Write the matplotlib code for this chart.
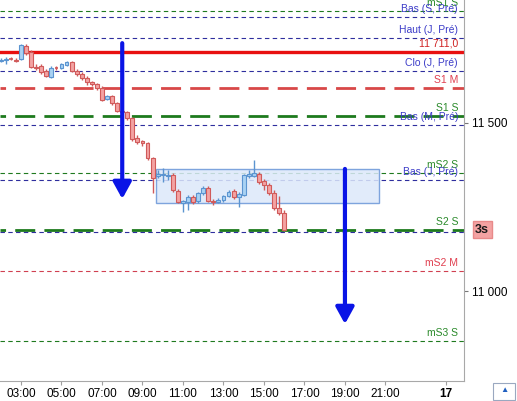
import matplotlib.pyplot as plt
from matplotlib.patches import Rectangle

plt.rcParams['font.family'] = ['Liberation Sans', 'DejaVu Sans']

# bougies 15 min, a partir de 02:00
start_hour = 2.0
opens = [11683, 11686, 11689, 11686, 11689, 11728, 11710, 11665, 11668, 11653,
         11636, 11662, 11662, 11671, 11680, 11653, 11645, 11633, 11621, 11615,
         11603, 11570, 11579, 11559, 11535, 11532, 11514, 11455, 11446, 11440,
         11395, 11342, 11345, 11342, 11345, 11297, 11262, 11265, 11280, 11268,
         11292, 11306, 11268, 11266, 11271, 11283, 11297, 11280, 11286, 11342,
         11342, 11348, 11327, 11315, 11292, 11247, 11232]
highs = [11692, 11695, 11695, 11692, 11734, 11734, 11716, 11674, 11674, 11659,
         11668, 11668, 11677, 11683, 11683, 11659, 11650, 11639, 11624, 11618,
         11609, 11582, 11582, 11561, 11541, 11535, 11517, 11464, 11449, 11443,
         11398, 11360, 11366, 11360, 11351, 11303, 11271, 11286, 11286, 11295,
         11312, 11312, 11274, 11277, 11286, 11300, 11303, 11295, 11348, 11360,
         11389, 11354, 11333, 11321, 11300, 11283, 11241]
lows = [11680, 11674, 11686, 11680, 11686, 11701, 11662, 11656, 11645, 11636,
        11633, 11656, 11659, 11668, 11650, 11639, 11627, 11612, 11609, 11597,
        11564, 11567, 11553, 11532, 11526, 11508, 11446, 11437, 11431, 11389,
        11292, 11336, 11324, 11330, 11295, 11262, 11235, 11241, 11259, 11262,
        11286, 11265, 11256, 11262, 11265, 11280, 11274, 11250, 11283, 11336,
        11339, 11318, 11300, 11286, 11241, 11226, 11179]
closes = [11686, 11689, 11688, 11683, 11731, 11707, 11665, 11662, 11650, 11639,
          11662, 11661, 11674, 11680, 11653, 11645, 11633, 11621, 11615, 11603,
          11567, 11579, 11559, 11535, 11532, 11514, 11452, 11443, 11440, 11395,
          11336, 11348, 11347, 11345, 11300, 11265, 11268, 11280, 11265, 11292,
          11306, 11268, 11265, 11271, 11283, 11295, 11280, 11289, 11345, 11348,
          11351, 11324, 11315, 11292, 11247, 11232, 11182]

# niveaux horizontaux
level_names = ['mS1 S', 'Bas (S, Pré)', 'Haut (J, Pré)', '11 711,0', 'Clo (J, Pré)',
               'S1 M', 'S1 S', 'Bas (M, Pré)', 'mS2 S', 'Bas (J, Pré)', 'S2 S', '',
               'mS2 M', 'mS3 S']
level_values = [11831, 11814, 11751, 11711, 11653, 11603, 11520, 11493, 11351, 11330,
                11182, 11176, 11060, 10853]
level_kinds = ['green', 'blue', 'blue', 'red_solid', 'blue', 'red_thick', 'green_thick',
               'blue', 'green', 'blue', 'green_thick', 'blue', 'red', 'green']

# zone et fleches
zone_time = [9.67, 20.68]
zone_price = [11262, 11363]
arrow_time = [8.0, 19.0]
arrow_from = [11736, 11363]
arrow_to = [11274, 10903]

tick_hours = [3, 5, 7, 9, 11, 13, 15, 17, 19, 21, 24]
tick_labels = ['03:00', '05:00', '07:00', '09:00', '11:00', '13:00', '15:00',
               '17:00', '19:00', '21:00', '17']

fig = plt.figure(figsize=(5.17, 4.01), dpi=100)
ax = fig.add_axes([0, 20 / 401, 464 / 517, 381 / 401])
ax.set_xlim(1.963, 24.88)
ax.set_ylim(10734, 11864)

styles = {
    'blue': dict(color='#2e2e9e', lw=0.8, ls=(0, (4, 3)), tc='#3c3cc8'),
    'green': dict(color='#1f7a1f', lw=0.8, ls=(0, (4, 3)), tc='#2a8a2a'),
    'red': dict(color='#d04050', lw=0.8, ls=(0, (4, 3)), tc='#e04050'),
    'red_solid': dict(color='#e81010', lw=2.4, ls='-', tc='#d02020'),
    'red_thick': dict(color='#d84848', lw=2.0, ls=(5.2, (7.2, 3.3)), tc='#e04050'),
    'green_thick': dict(color='#1d7a1d', lw=2.0, ls=(5.2, (7.2, 3.3)), tc='#2a8a2a'),
}
for name, val, kind in zip(level_names, level_values, level_kinds):
    st = styles[kind]
    ax.axhline(val, color=st['color'], lw=st['lw'], ls=st['ls'], zorder=2)
    if name:
        ax.annotate(name, xy=(458 / 464, val), xycoords=('axes fraction', 'data'),
                    xytext=(0, 2), textcoords='offset points', ha='right', va='bottom',
                    fontsize=7.5, color=st['tc'], zorder=6)

# zone
ax.add_patch(Rectangle((zone_time[0], zone_price[0]), zone_time[1] - zone_time[0],
                       zone_price[1] - zone_price[0], facecolor='#dce8fa',
                       edgecolor='#6a96d8', lw=1.0, alpha=0.85, zorder=3))

# bougies
w = 0.19
for i in range(len(opens)):
    t = start_hour + 0.25 * i
    o, h, l, c = opens[i], highs[i], lows[i], closes[i]
    if c >= o:
        fc, ec = '#a9d2f3', '#5b94d0'
    else:
        fc, ec = '#f3a3a3', '#d05a5a'
    ax.vlines(t, l, h, color=ec, lw=1.0, zorder=4)
    if abs(c - o) < 2:
        ax.hlines((o + c) / 2, t - w / 2, t + w / 2, color=ec, lw=1.2, zorder=5)
    else:
        ax.add_patch(Rectangle((t - w / 2, min(o, c)), w, abs(c - o), facecolor=fc,
                               edgecolor=ec, lw=0.8, zorder=5))

# fleches
for t, y0, y1 in zip(arrow_time, arrow_from, arrow_to):
    ax.annotate('', xy=(t, y1), xytext=(t, y0),
                arrowprops=dict(arrowstyle='-|>,head_length=1.0,head_width=0.55',
                                color='#0a14e6', lw=3, shrinkA=0, shrinkB=0),
                zorder=7)

# axes
for s in ['left', 'top']:
    ax.spines[s].set_visible(False)
for s in ['right', 'bottom']:
    ax.spines[s].set_color('#a8a8a8')
ax.yaxis.tick_right()
ax.set_yticks([11000, 11500])
ax.set_yticklabels(['11 000', '11 500'], fontsize=8.5)
ax.tick_params(axis='y', length=3, color='#777777', pad=3)
ax.set_xticks(tick_hours)
ax.set_xticklabels(tick_labels, fontsize=8.5)
ax.tick_params(axis='x', length=3, color='#a0a0a0', pad=2)
ax.get_xticklabels()[-1].set_fontweight('bold')

# etiquette du dernier cours
ax.annotate('3s', xy=(1.0, closes[-1]), xycoords=('axes fraction', 'data'),
            xytext=(8, 0), textcoords='offset points', ha='left', va='center',
            fontsize=9, fontweight='bold', color='#1a1a1a',
            bbox=dict(boxstyle='square,pad=0.2', fc='#f4a3a3', ec='#e88a8a'),
            annotation_clip=False)

# petit bouton en bas a droite
fig.patches.append(Rectangle((493 / 517, 1 / 401), 22 / 517, 17 / 401, transform=fig.transFigure,
                             facecolor='white', edgecolor='#9aa8c0', lw=0.8))
fig.text(504 / 517, 10 / 401, '▲', color='#2060c0', fontsize=6, ha='center', va='center')

plt.savefig('out.png', dpi=100)
